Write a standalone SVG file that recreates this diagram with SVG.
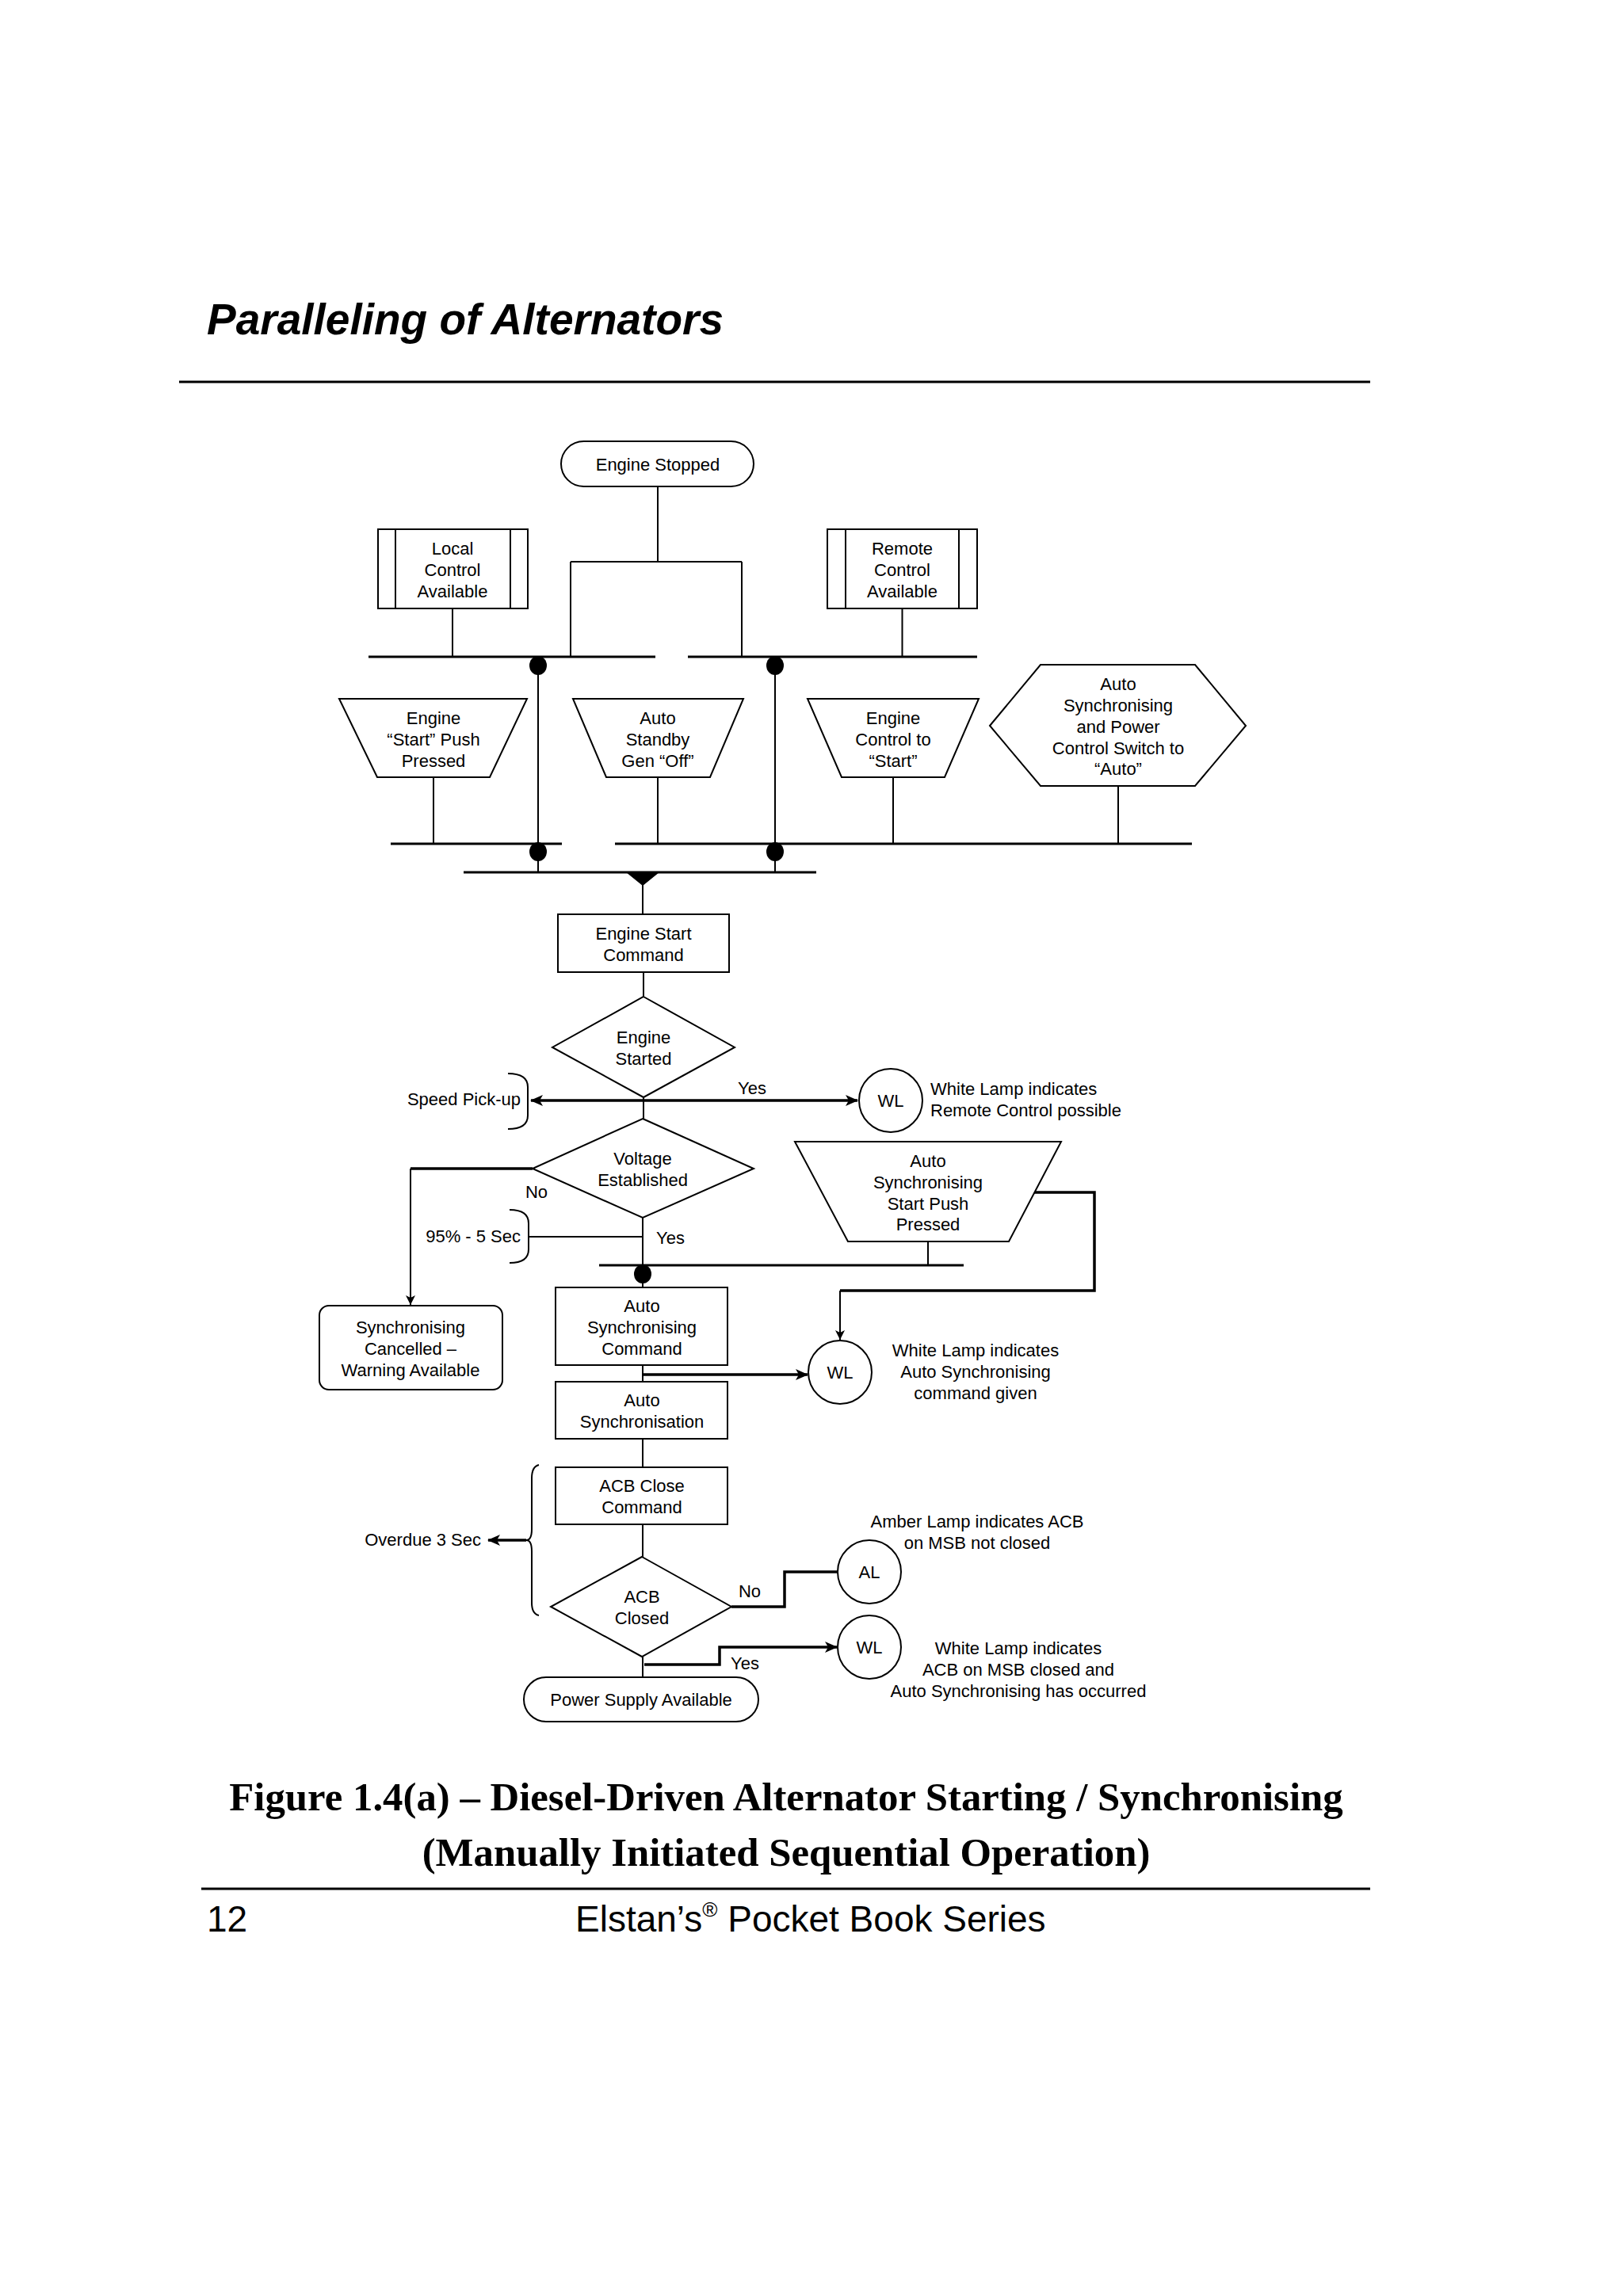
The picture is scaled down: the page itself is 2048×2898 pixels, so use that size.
<svg xmlns="http://www.w3.org/2000/svg" width="2048" height="2898" viewBox="0 0 2048 2898">
<style>
  .bg { fill: #ffffff; }
  .shape { fill: #ffffff; stroke: #000000; stroke-width: 2; }
  .ln { fill: none; stroke: #000000; stroke-width: 2; }
  .bold { fill: none; stroke: #000000; stroke-width: 3.5; }
  .bus { fill: none; stroke: #000000; stroke-width: 3; }
  .dot { fill: #000000; stroke: none; }
  .t { font-family: "Liberation Sans", Arial, sans-serif; font-size: 22px; fill: #000000; text-anchor: middle; }
  .tl { font-family: "Liberation Sans", Arial, sans-serif; font-size: 22px; fill: #000000; text-anchor: start; }
  .te { font-family: "Liberation Sans", Arial, sans-serif; font-size: 22px; fill: #000000; text-anchor: end; }
  .title { font-family: "Liberation Sans", Arial, sans-serif; font-size: 55px; font-weight: bold; font-style: italic; fill: #000000; }
  .cap { font-family: "Liberation Serif", "Times New Roman", serif; font-size: 50.8px; font-weight: bold; fill: #000000; text-anchor: middle; }
  .foot { font-family: "Liberation Sans", Arial, sans-serif; font-size: 46px; fill: #000000; }
</style>
<defs>
  <marker id="arr" markerUnits="userSpaceOnUse" markerWidth="16" markerHeight="14" refX="15" refY="7" orient="auto-start-reverse">
    <path d="M0,0 L16,7 L0,14 L4,7 z" fill="#000000"/>
  </marker>
  <marker id="arrs" markerUnits="userSpaceOnUse" markerWidth="12" markerHeight="12" refX="12" refY="6" orient="auto">
    <path d="M0,0 L12,6 L0,12 L3,6 z" fill="#000000"/>
  </marker>
</defs>
<rect class="bg" x="0" y="0" width="2048" height="2898"/>

<g id="page-header">
  <text class="title" x="261" y="422">Paralleling of Alternators</text>
  <line x1="226" y1="482" x2="1729" y2="482" stroke="#000" stroke-width="3"/>
</g>

<g id="connectors">
  <path class="ln" d="M830,614 V709 M720,709 H936 M720,709 V829 M936,709 V829"/>
  <path class="ln" d="M571,768 V829 M1138.5,768 V829"/>
  <path class="bus" d="M465,829 H827 M868,829 H1233"/>
  <path class="ln" d="M679,829 V1101 M978,829 V1101"/>
  <ellipse class="dot" cx="679" cy="840" rx="11" ry="12"/>
  <ellipse class="dot" cx="978" cy="840" rx="11" ry="12"/>
  <ellipse class="dot" cx="679" cy="1075" rx="11" ry="12"/>
  <ellipse class="dot" cx="978" cy="1075" rx="11" ry="12"/>
  <path class="ln" d="M547,981 V1065 M830,981 V1065 M1127,981 V1065 M1411,992 V1065"/>
  <path class="bus" d="M493,1065 H709 M776,1065 H1504"/>
  <path class="bus" d="M585,1101 H1030"/>
  <polygon points="790,1101 832,1101 811,1118" fill="#000"/>
  <path class="ln" d="M811,1101 V1154"/>
  <path class="ln" d="M812,1227 V1258"/>
  <path class="bold" d="M670,1389 H1082" marker-start="url(#arr)" marker-end="url(#arr)"/>
  <path class="ln" d="M641,1355 Q666,1355 666,1372 L666,1408 Q666,1425 641,1425"/>
  <path class="ln" d="M812,1385 V1412"/>
  <path class="bold" d="M672,1475 H518"/>
  <path class="ln" d="M518,1475 V1647" marker-end="url(#arrs)"/>
  <path class="ln" d="M643,1527 Q667,1527 667,1544 L667,1577 Q667,1594 643,1594"/>
  <path class="ln" d="M667,1561 H811"/>
  <path class="ln" d="M811,1537 V1625"/>
  <path class="bus" d="M756,1597 H1216"/>
  <ellipse class="dot" cx="811" cy="1608" rx="11" ry="12"/>
  <path class="ln" d="M1171,1567 V1597"/>
  <path class="bold" d="M1305,1505 H1381 V1629 H1060"/>
  <path class="ln" d="M1060,1629 V1691" marker-end="url(#arrs)"/>
  <path class="ln" d="M811,1723 V1744"/>
  <path class="bold" d="M811,1735 H1019" marker-end="url(#arr)"/>
  <path class="ln" d="M811,1816 V1852"/>
  <path class="ln" d="M811,1924 V1965"/>
  <path class="bold" d="M923,2028 H990 V1984 H1057"/>
  <path class="ln" d="M811,2091 V2117"/>
  <path class="bold" d="M813,2101 H908 V2079 H1056" marker-end="url(#arr)"/>
  <path class="ln" d="M680,1849 Q671,1851 671,1866 L671,1930 Q671,1944 664,1944 Q671,1944 671,1958 L671,2023 Q671,2037 680,2039"/>
  <path class="bold" d="M664,1944 H616" marker-end="url(#arr)"/>
</g>

<g id="engine-stopped">
  <rect class="shape" x="708" y="557" width="243" height="57" rx="28.5"/>
  <text class="t" x="830" y="594">Engine Stopped</text>
</g>

<g id="local-control">
  <rect class="shape" x="477" y="668" width="189" height="100"/>
  <path class="ln" d="M499,668 V768 M644,668 V768"/>
  <text class="t" x="571" y="700">Local</text>
  <text class="t" x="571" y="727">Control</text>
  <text class="t" x="571" y="754">Available</text>
</g>

<g id="remote-control">
  <rect class="shape" x="1044" y="668" width="189" height="100"/>
  <path class="ln" d="M1067,668 V768 M1210,668 V768"/>
  <text class="t" x="1138.5" y="700">Remote</text>
  <text class="t" x="1138.5" y="727">Control</text>
  <text class="t" x="1138.5" y="754">Available</text>
</g>

<g id="engine-start-push">
  <polygon class="shape" points="428,882 665,882 618,981 476,981"/>
  <text class="t" x="547" y="914">Engine</text>
  <text class="t" x="547" y="941">“Start” Push</text>
  <text class="t" x="547" y="968">Pressed</text>
</g>

<g id="auto-standby">
  <polygon class="shape" points="723,882 938,882 896,981 765,981"/>
  <text class="t" x="830" y="914">Auto</text>
  <text class="t" x="830" y="941">Standby</text>
  <text class="t" x="830" y="968">Gen “Off”</text>
</g>

<g id="engine-control-start">
  <polygon class="shape" points="1019,882 1235,882 1192,981 1062,981"/>
  <text class="t" x="1127" y="914">Engine</text>
  <text class="t" x="1127" y="941">Control to</text>
  <text class="t" x="1127" y="968">“Start”</text>
</g>

<g id="auto-switch">
  <polygon class="shape" points="1249,916 1313,839 1508,839 1572,916 1508,992 1313,992"/>
  <text class="t" x="1411" y="871">Auto</text>
  <text class="t" x="1411" y="898">Synchronising</text>
  <text class="t" x="1411" y="925">and Power</text>
  <text class="t" x="1411" y="952">Control Switch to</text>
  <text class="t" x="1411" y="978">“Auto”</text>
</g>

<g id="engine-start-command">
  <rect class="shape" x="704" y="1154" width="216" height="73"/>
  <text class="t" x="812" y="1186">Engine Start</text>
  <text class="t" x="812" y="1213">Command</text>
</g>

<g id="engine-started">
  <polygon class="shape" points="812,1258 927,1322 812,1385 697,1322"/>
  <text class="t" x="812" y="1317">Engine</text>
  <text class="t" x="812" y="1344">Started</text>
</g>

<g id="speed-pickup">
  <text class="te" x="657" y="1395">Speed Pick-up</text>
  <text class="t" x="949" y="1381">Yes</text>
</g>

<g id="wl-remote">
  <circle class="shape" cx="1124" cy="1389" r="40"/>
  <text class="t" x="1124" y="1397">WL</text>
  <text class="tl" x="1174" y="1382">White Lamp indicates</text>
  <text class="tl" x="1174" y="1409">Remote Control possible</text>
</g>

<g id="voltage-established">
  <polygon class="shape" points="811,1412 951,1475 811,1537 672,1475"/>
  <text class="t" x="811" y="1470">Voltage</text>
  <text class="t" x="811" y="1497">Established</text>
  <text class="t" x="677" y="1512">No</text>
  <text class="te" x="657" y="1568">95% - 5 Sec</text>
  <text class="t" x="846" y="1570">Yes</text>
</g>

<g id="auto-sync-start-push">
  <polygon class="shape" points="1003,1441 1339,1441 1273,1567 1070,1567"/>
  <text class="t" x="1171" y="1473">Auto</text>
  <text class="t" x="1171" y="1500">Synchronising</text>
  <text class="t" x="1171" y="1527">Start Push</text>
  <text class="t" x="1171" y="1553">Pressed</text>
</g>

<g id="sync-cancelled">
  <rect class="shape" x="403" y="1648" width="231" height="106" rx="12"/>
  <text class="t" x="518" y="1683">Synchronising</text>
  <text class="t" x="518" y="1710">Cancelled –</text>
  <text class="t" x="518" y="1737">Warning Available</text>
</g>

<g id="auto-sync-command">
  <rect class="shape" x="701" y="1625" width="217" height="98"/>
  <text class="t" x="810" y="1656">Auto</text>
  <text class="t" x="810" y="1683">Synchronising</text>
  <text class="t" x="810" y="1710">Command</text>
</g>

<g id="wl-auto-sync">
  <circle class="shape" cx="1060" cy="1732" r="40"/>
  <text class="t" x="1060" y="1740">WL</text>
  <text class="t" x="1231" y="1712">White Lamp indicates</text>
  <text class="t" x="1231" y="1739">Auto Synchronising</text>
  <text class="t" x="1231" y="1766">command given</text>
</g>

<g id="auto-synchronisation">
  <rect class="shape" x="701" y="1744" width="217" height="72"/>
  <text class="t" x="810" y="1775">Auto</text>
  <text class="t" x="810" y="1802">Synchronisation</text>
</g>

<g id="acb-close-command">
  <rect class="shape" x="701" y="1852" width="217" height="72"/>
  <text class="t" x="810" y="1883">ACB Close</text>
  <text class="t" x="810" y="1910">Command</text>
</g>

<g id="overdue">
  <text class="te" x="607" y="1951">Overdue 3 Sec</text>
</g>

<g id="acb-closed">
  <polygon class="shape" points="810,1965 923,2028 810,2091 695,2028"/>
  <text class="t" x="810" y="2023">ACB</text>
  <text class="t" x="810" y="2050">Closed</text>
  <text class="t" x="946" y="2016">No</text>
  <text class="t" x="940" y="2107">Yes</text>
</g>

<g id="al-lamp">
  <circle class="shape" cx="1097" cy="1984" r="40"/>
  <text class="t" x="1097" y="1992">AL</text>
  <text class="t" x="1233" y="1928">Amber Lamp indicates ACB</text>
  <text class="t" x="1233" y="1955">on MSB not closed</text>
</g>

<g id="wl-acb">
  <circle class="shape" cx="1097" cy="2079" r="40"/>
  <text class="t" x="1097" y="2087">WL</text>
  <text class="t" x="1285" y="2088">White Lamp indicates</text>
  <text class="t" x="1285" y="2115">ACB on MSB closed and</text>
  <text class="t" x="1285" y="2142">Auto Synchronising has occurred</text>
</g>

<g id="power-supply">
  <rect class="shape" x="661" y="2117" width="296" height="56" rx="28"/>
  <text class="t" x="809" y="2153">Power Supply Available</text>
</g>

<g id="caption">
  <text class="cap" x="992" y="2285">Figure 1.4(a) – Diesel-Driven Alternator Starting / Synchronising</text>
  <text class="cap" x="992" y="2355">(Manually Initiated Sequential Operation)</text>
</g>

<g id="page-footer">
  <line x1="254" y1="2384" x2="1729" y2="2384" stroke="#000" stroke-width="3"/>
  <text class="foot" x="261" y="2438">12</text>
  <text class="foot" x="726" y="2438">Elstan’s<tspan font-size="26" dy="-19">®</tspan><tspan dy="19"> Pocket Book Series</tspan></text>
</g>
</svg>
